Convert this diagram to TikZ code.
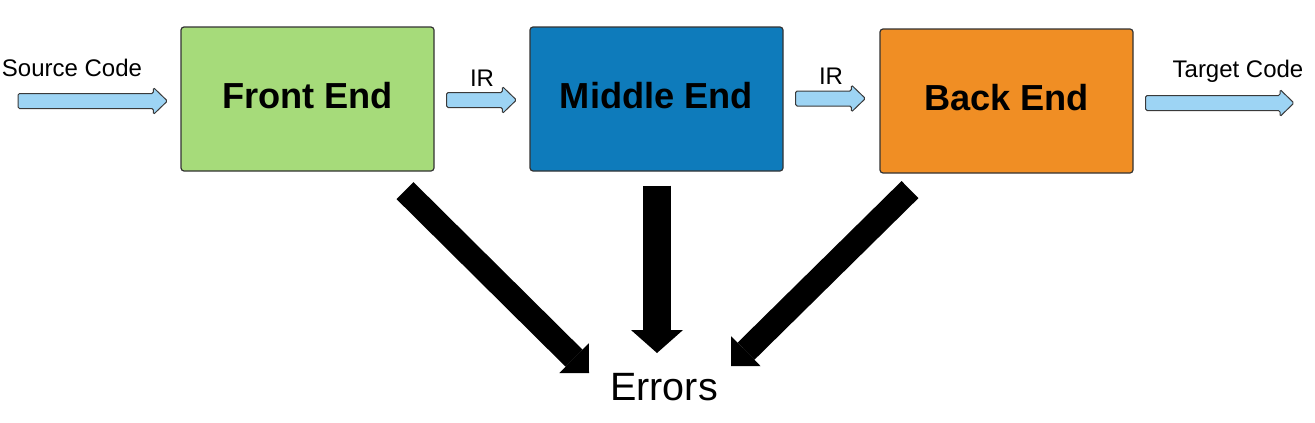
\documentclass[tikz,border=0pt]{standalone}
\usepackage{fontspec}
\setmainfont{Liberation Sans}
\usetikzlibrary{arrows.meta,calc}
\definecolor{feGreen}{HTML}{A6DB7A}
\definecolor{meBlue}{HTML}{0E7BBB}
\definecolor{beOrange}{HTML}{F08E24}
\definecolor{arrBlue}{HTML}{9DD4F4}
\definecolor{arrLine}{HTML}{3A3A3A}
\definecolor{boxLine}{HTML}{333333}
\newcommand\bluearrow[2]{%
  \filldraw[bluearr] let \p1=#1, \p2=#2 in
  (\x1,\y1+7.5pt) -- (\x2-14pt,\y1+7.5pt) -- (\x2-14pt,\y1+13.5pt) -- (\x2,\y1)
  -- (\x2-14pt,\y1-13.5pt) -- (\x2-14pt,\y1-7.5pt) -- (\x1,\y1-7.5pt) -- cycle;}
\begin{document}
\begin{tikzpicture}[x=1pt,y=-1pt,
  stage/.style={draw=boxLine, line width=1.2pt, rounded corners=3pt,
    minimum width=253pt, minimum height=144pt, inner sep=0pt,
    font=\fontsize{36.2}{40}\selectfont\bfseries, text depth=7pt},
  lbl/.style={font=\fontsize{24}{28}\selectfont, anchor=base, inner sep=0pt},
  bluearr/.style={fill=arrBlue, draw=arrLine, line width=1pt, rounded corners=1.5pt},
  errarr/.style={line width=24pt, -{Triangle[width=42pt,length=21pt,line width=0pt]}},
  errarrv/.style={line width=28pt, -{Triangle[width=52pt,length=23pt,line width=0pt]}}]
\useasboundingbox (0,0) rectangle (1315,423);

\node[stage, fill=feGreen] (fe) at (307.5,99) {Front End};
\node[stage, fill=meBlue] (me) at (656.5,99) {Middle End};
\node[stage, fill=beOrange] (be) at (1006.5,101) {Back End};

\node[lbl] (srclbl) at (72,76) {Source Code};
\node[lbl] (ir1) at (482,86) {IR};
\node[lbl] (ir2) at (831,84) {IR};
\node[lbl] (tgtlbl) at (1238,77) {Target Code};
\node[font=\fontsize{39.5}{44}\selectfont, anchor=base, inner sep=0pt] (err) at (664,400) {Errors};

% blue flow arrows
\coordinate (srcS) at (18,101);
\coordinate (srcE) at ($(fe.west)+(-13,2)$);
\coordinate (ir1S) at ($(fe.east)+(12,1)$);
\coordinate (ir1E) at ($(me.west)+(-13,1)$);
\coordinate (ir2S) at ($(me.east)+(12,-0.5)$);
\coordinate (ir2E) at ($(be.west)+(-14,-2.5)$);
\coordinate (tgtS) at ($(be.east)+(12,2)$);
\coordinate (tgtE) at (1294,103);
\bluearrow{(srcS)}{(srcE)}
\bluearrow{(ir1S)}{(ir1E)}
\bluearrow{(ir2S)}{(ir2E)}
\bluearrow{(tgtS)}{(tgtE)}

% error arrows
\coordinate (e1S) at ($(fe.south)+(97.5,19)$);
\coordinate (e1E) at (589,373);
\coordinate (e2S) at ($(me.south)+(0.5,14)$);
\coordinate (e2E) at (657,353);
\coordinate (e3S) at ($(be.south)+(-96.5,16)$);
\coordinate (e3E) at (731,366);
\draw[errarr] (e1S) -- (e1E);
\draw[errarrv] (e2S) -- (e2E);
\draw[errarr] (e3S) -- (e3E);
\end{tikzpicture}
\end{document}
